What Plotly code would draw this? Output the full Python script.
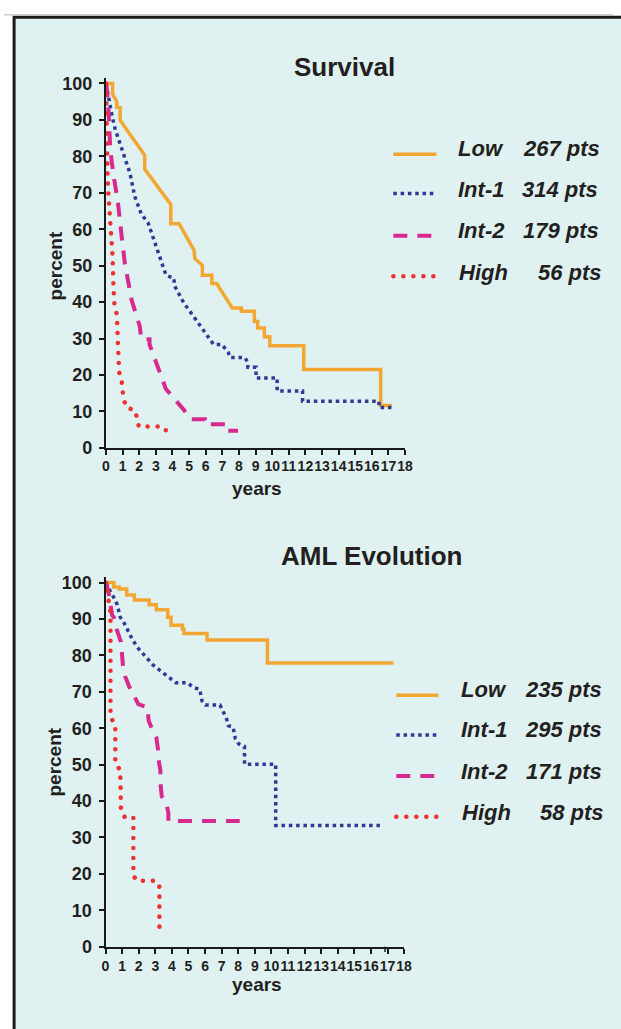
import plotly.graph_objects as go

W, H = 621, 1029

# ---------------- data ----------------
# Survival panel (years, percent)
surv_low_t = [0, 0.4, 0.4, 0.65, 0.65, 0.85, 0.85, 2.33, 2.33, 3.9, 3.9, 4.4, 5.3, 5.35, 5.8, 5.8, 6.37, 6.37, 6.66, 7.6,
              8.15, 8.15, 8.93, 8.93, 9.13, 9.13, 9.53, 9.53, 9.86, 9.86, 11.9, 11.9, 16.53, 16.53, 17.2]
surv_low_p = [100, 100, 97, 95, 93.5, 93.4, 89.9, 80.3, 76.5, 66.8, 61.5, 61.5, 54.2, 51.9, 50.1, 47.4, 47.4, 45.1, 45.1, 38.4,
              38.4, 37.5, 37.5, 34.7, 34.7, 32.9, 32.9, 30.5, 30.5, 28.0, 28.0, 21.5, 21.5, 11.6, 11.6]

surv_int1_t = [0, 0.16, 0.36, 0.55, 0.95, 1.24, 1.44, 1.73, 2.13, 2.53, 2.92, 3.31, 3.61, 4.1, 4.1, 4.3, 4.69, 5.19, 5.68, 6.17,
               6.47, 6.96, 7.36, 7.46, 8.34, 8.54, 8.54, 9.03, 9.03, 10.3, 10.3, 11.83, 11.83, 16.43, 16.43, 17.2]
surv_int1_p = [100, 95.9, 91.2, 87.5, 82, 78.5, 75.4, 69, 64.1, 61.8, 56.9, 51.4, 47.4, 46.5, 44.7, 42.9, 39.7, 36.6, 33.4, 30.0,
               28.4, 28.4, 26.2, 24.8, 24.8, 23.5, 22.1, 22.1, 19.2, 19.2, 15.6, 15.6, 12.8, 12.8, 11.1, 11.1]

surv_int2_t = [0, 0.05, 0.16, 0.26, 0.45, 0.71, 0.95, 1.14, 1.54, 2.03, 2.13, 2.62, 2.62, 3.31, 3.6, 4.69, 5.09, 5.95, 5.95,
               7.3, 7.3, 7.95]
surv_int2_p = [100, 98.8, 92, 81.7, 74.9, 67.7, 57.8, 50.5, 40.6, 33.4, 29.8, 29.8, 28.4, 19.8, 16.2, 10.4, 7.85, 7.85, 6.5,
               6.5, 4.7, 4.7]

surv_high_t = [0, 0.02, 0.04, 0.06, 0.1, 0.16, 0.26, 0.36, 0.4, 0.45, 0.51, 0.65, 0.71, 0.79, 0.95, 1.05, 1.24, 1.73, 1.88,
               1.97, 3.4, 3.6, 3.6]
surv_high_p = [100, 94, 84, 78.5, 73.6, 68.6, 63.2, 55, 52.3, 44.2, 39.3, 36.6, 26.2, 20.8, 18.1, 13.5, 11, 10.4, 8.1,
               5.9, 5.9, 4.9, 2.7]

# AML evolution panel (years, percent)
aml_low_t = [0, 0.5, 0.5, 0.83, 0.83, 1.28, 1.28, 1.74, 1.74, 2.63, 2.63, 3.06, 3.06, 3.75, 3.75, 3.95, 3.95, 4.64, 4.64,
             4.73, 4.73, 6.12, 6.12, 9.76, 9.76, 17.36]
aml_low_p = [100, 100, 98.8, 98.8, 98.2, 98.2, 96.6, 96.6, 95.2, 95.2, 93.9, 93.9, 92.5, 92.5, 90.5, 90.5, 88.3, 88.3, 87.2,
             87.2, 86.0, 86.0, 84.2, 84.2, 77.9, 77.9]

aml_int1_t = [0, 0.3, 0.5, 0.69, 0.89, 1.15, 1.48, 1.88, 2.37, 2.86, 3.36, 3.85, 4.24, 4.93, 5.33, 5.68, 5.82, 6.02, 6.9,
              7.07, 7.3, 7.4, 7.69, 7.83, 8.03, 8.38, 8.38, 10.26, 10.26, 16.57]
aml_int1_p = [100, 97.8, 95.9, 94.1, 90.5, 88.7, 85.6, 82.4, 79.9, 77.4, 75.6, 73.8, 72.5, 72.5, 71.1, 70.7, 67.5, 66.4, 66.4,
              64.8, 62.5, 60.7, 60.3, 57.1, 55.7, 55.0, 50.1, 50.1, 33.3, 33.3]

aml_int2_t = [0, 0.06, 0.2, 0.3, 0.4, 0.5, 0.69, 0.93, 0.99, 1.05, 1.18, 1.42, 1.68, 1.98, 2.53, 2.6, 2.76, 3.06, 3.16, 3.2,
              3.31, 3.31, 3.39, 3.65, 3.79, 3.79, 8.09]
aml_int2_p = [100, 99.6, 96.9, 93.7, 91, 90.5, 86.9, 83.7, 80.6, 77.4, 74.3, 71.5, 69.3, 66.6, 65.7, 62.1, 60.3, 57.6, 54.4,
              51.2, 48.5, 44.9, 41.3, 39.5, 36.8, 34.5, 34.5]

aml_high_t = [0, 0.1, 0.15, 0.3, 0.3, 0.59, 0.59, 0.89, 0.93, 1.15, 1.68, 1.68, 1.88, 3.06, 3.25, 3.25]
aml_high_p = [100, 100, 96, 92, 63, 61, 50.3, 48.5, 37.7, 35.7, 35.7, 19.6, 18.1, 18.1, 16.4, 2.9]

group_names = ["Low", "Int-1", "Int-2", "High"]
surv_counts = ["267 pts", "314 pts", "179 pts", "56 pts"]
aml_counts = ["235 pts", "295 pts", "171 pts", "58 pts"]

panel_titles = ["Survival", "AML Evolution"]
x_title = "years"
y_title = "percent"

x_ticks = list(range(0, 19))
x_ticklabels = [str(v) for v in x_ticks]
y_ticks = list(range(0, 101, 10))
y_ticklabels = [str(v) for v in y_ticks]

# ---------------- styling ----------------
FONT = "Liberation Sans, Arial, Helvetica, sans-serif"
TXT = "#231f20"
BG = "#dff2f1"
C_LOW = "#f4a633"
C_INT1 = "#2f3a96"
C_INT2 = "#d8298e"
C_HIGH = "#ee3131"

styles = [
    dict(color=C_LOW, width=3.5, dash="solid"),
    dict(color=C_INT1, width=3.5, dash="3.5px,3.8px"),
    dict(color=C_INT2, width=4, dash="14px,10px"),
    dict(color=C_HIGH, width=4.5, dash="0.1px,9.9px"),
]


def fx(px):
    return px / W


def fy(px):
    return 1 - px / H


fig = go.Figure()

surv_series = [(surv_low_t, surv_low_p), (surv_int1_t, surv_int1_p), (surv_int2_t, surv_int2_p), (surv_high_t, surv_high_p)]
aml_series = [(aml_low_t, aml_low_p), (aml_int1_t, aml_int1_p), (aml_int2_t, aml_int2_p), (aml_high_t, aml_high_p)]

for (t, p), st, name in zip(surv_series, styles, group_names):
    fig.add_trace(go.Scatter(x=t, y=p, mode="lines", name=name, line=st,
                             xaxis="x", yaxis="y", showlegend=False, hoverinfo="skip"))
for (t, p), st, name in zip(aml_series, styles, group_names):
    fig.add_trace(go.Scatter(x=t, y=p, mode="lines", name=name, line=st,
                             xaxis="x2", yaxis="y2", showlegend=False, hoverinfo="skip"))

axis_common = dict(showline=True, linecolor="#1a1a1a", linewidth=2, ticks="outside", ticklen=5,
                   tickwidth=2, tickcolor="#1a1a1a", showgrid=False, zeroline=False, fixedrange=True)
xfont = dict(family=FONT, size=14, color=TXT, weight="bold")
yfont = dict(family=FONT, size=18, color=TXT, weight="bold")

fig.update_layout(
    width=W, height=H, margin=dict(l=0, r=0, t=0, b=0),
    paper_bgcolor="white", plot_bgcolor="rgba(0,0,0,0)",
    xaxis=dict(axis_common, range=[0, 18], domain=[fx(104), fx(409)], anchor="y", tickangle=0,
               tickmode="array", tickvals=x_ticks, ticktext=x_ticklabels, tickfont=xfont, ticklabelstandoff=-1),
    yaxis=dict(axis_common, range=[0, 101.5], domain=[fy(450), fy(75)], anchor="x",
               tickmode="array", tickvals=y_ticks, ticktext=y_ticklabels, tickfont=yfont, ticklabelstandoff=3),
    xaxis2=dict(axis_common, range=[0, 18], domain=[fx(103.5), fx(408)], anchor="y2", tickangle=0,
                tickmode="array", tickvals=x_ticks, ticktext=x_ticklabels, tickfont=xfont, ticklabelstandoff=1),
    yaxis2=dict(axis_common, range=[0, 101.5], domain=[fy(955.7), fy(581)], anchor="x2",
                tickmode="array", tickvals=y_ticks, ticktext=y_ticklabels, tickfont=yfont, ticklabelstandoff=3),
)

shapes = [
    dict(type="rect", xref="paper", yref="paper", x0=fx(10.3), x1=1.1, y0=fy(13.5), y1=-0.1,
         fillcolor=BG, line=dict(color="#1a1a1a", width=3), layer="below"),
    dict(type="line", xref="paper", yref="paper", x0=0, x1=1, y0=fy(11), y1=fy(11),
         line=dict(color="#b5b5b5", width=1), layer="below"),
    # axis-break mark on the lower time axis, beside the 17-year tick
    dict(type="line", xref="x2", yref="paper", x0=16.85, x1=16.85, y0=fy(955.7), y1=fy(961),
         line=dict(color="#1a1a1a", width=1.5)),
]

annotations = []


def ann(text, x, y, size, xanchor="center", italic=False, angle=0):
    annotations.append(dict(
        text=("<i>%s</i>" % text) if italic else text, x=fx(x), y=fy(y), xref="paper", yref="paper",
        xanchor=xanchor, yanchor="middle", showarrow=False, textangle=angle, borderpad=0,
        font=dict(family=FONT, size=size, color=TXT, weight="bold")))


# titles and axis titles
ann(panel_titles[0], 347, 64, 26)
ann(panel_titles[1], 375, 560, 26)
ann(y_title, 52, 265, 19, angle=-90)
ann(y_title, 52, 768, 19, angle=-90)
ann(x_title, 257.5, 491, 19)
ann(x_title, 257.5, 994, 19)

# legends
legend_blocks = [
    dict(counts=surv_counts, text_y=[147, 188, 230, 272], line_y=[152.3, 192, 235, 276],
         x0=397, x1=441, name_x=[462, 462, 462, 463], count_x=[528, 527.5, 528, 543.5]),
    dict(counts=aml_counts, text_y=[695, 736, 778, 820], line_y=[700.7, 741, 782.7, 824],
         x0=400, x1=443, name_x=[464.5, 464.5, 464.5, 465.5], count_x=[530, 530, 531, 546]),
]
for blk in legend_blocks:
    for i, (nm, cnt, st) in enumerate(zip(group_names, blk["counts"], styles)):
        shapes.append(dict(type="line", xref="paper", yref="paper",
                           x0=fx(blk["x0"]), x1=fx(blk["x1"]), y0=fy(blk["line_y"][i]), y1=fy(blk["line_y"][i]),
                           line=dict(color=st["color"], width=st["width"], dash=st["dash"])))
        ann(nm, blk["name_x"][i], blk["text_y"][i], 22, xanchor="left", italic=True)
        ann(cnt, blk["count_x"][i], blk["text_y"][i], 22, xanchor="left", italic=True)

fig.update_layout(shapes=shapes, annotations=annotations)

# One post script: round caps for the red dotted curves once drawn, and the page margin
# removed synchronously while the page is parsed.
post = (
    "}).then(function(){"
    " var gd = document.getElementById('{plot_id}');"
    " gd.querySelectorAll('path').forEach(function (p) {"
    "   var s = (p.style.stroke || '').replace(/\\s/g, '');"
    "   if (s === 'rgb(238,49,49)') { p.style.strokeLinecap = 'round'; }"
    " });"
    "}); document.documentElement.style.margin='0'; document.body.style.margin='0';"
    " document.body.style.overflow='hidden'; (function(){"
)

fig.write_html("out.html", post_script=post, config={"displayModeBar": False})
